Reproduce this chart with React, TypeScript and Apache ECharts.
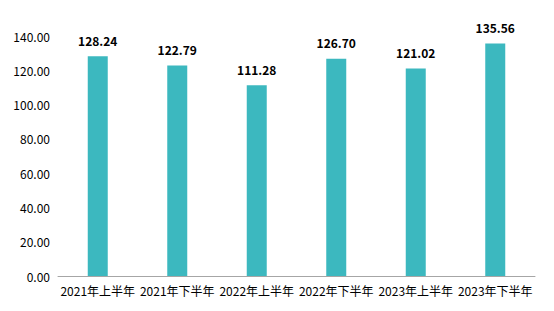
import React, { useEffect, useRef } from "react";
import * as echarts from "echarts";

const categories = ["2021年上半年", "2021年下半年", "2022年上半年", "2022年下半年", "2023年上半年", "2023年下半年"];
const values = [128.24, 122.79, 111.28, 126.7, 121.02, 135.56];

export default function App() {
  const ref = useRef<HTMLDivElement>(null);
  useEffect(() => {
    const chart = echarts.init(ref.current!, null, { renderer: "svg" });
    chart.setOption({
      animation: false,
      grid: { left: 58, right: 19, top: 36, bottom: 35 },
      xAxis: {
        type: "category",
        data: categories,
        axisTick: { show: false },
        axisLine: { lineStyle: { color: "#a6a6a6" } },
        axisLabel: { color: "#000", fontSize: 12, fontFamily: "Noto Sans CJK SC", interval: 0, margin: 8 },
      },
      yAxis: {
        type: "value",
        min: 0,
        max: 140,
        interval: 20,
        splitLine: { show: false },
        axisLabel: { color: "#000", fontSize: 12, fontFamily: "Noto Sans CJK SC", formatter: (v: number) => v.toFixed(2), margin: 8 },
      },
      series: [
        {
          type: "bar",
          data: values,
          barWidth: 20,
          itemStyle: { color: "#3cb8bf" },
          label: {
            show: true,
            position: "top",
            distance: 10,
            color: "#000",
            fontWeight: "bold",
            fontSize: 12,
            fontFamily: "Noto Sans CJK SC",
            formatter: (p: any) => p.value.toFixed(2),
          },
        },
      ],
    });
    return () => chart.dispose();
  }, []);
  return <div ref={ref} style={{ width: 554, height: 311, position: "absolute", left: 0, top: 0 }} />;
}
